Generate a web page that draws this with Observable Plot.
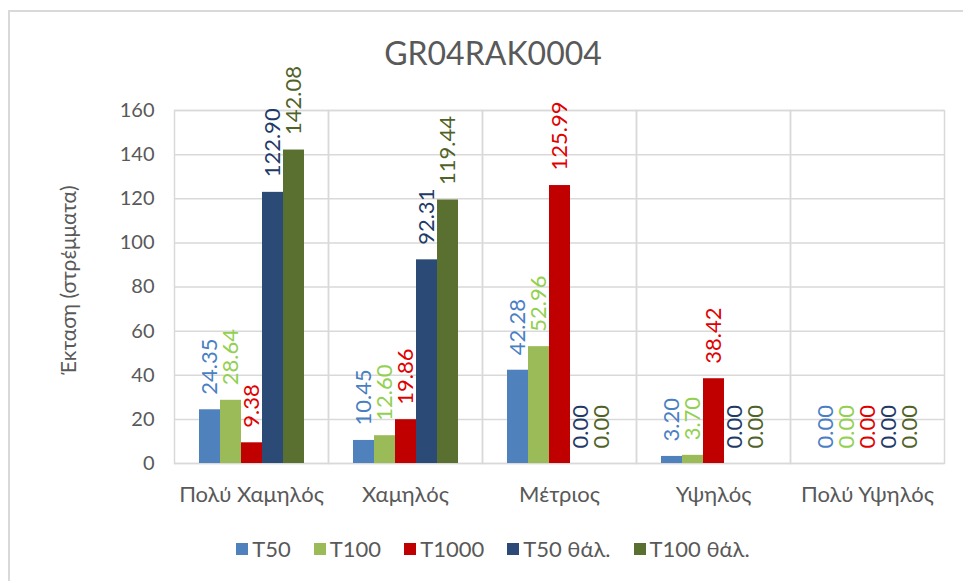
<!DOCTYPE html>
<html>
<head>
<meta charset="utf-8">
<script src="https://cdn.jsdelivr.net/npm/d3@7"></script>
<script src="https://cdn.jsdelivr.net/npm/@observablehq/plot@0.6"></script>
<style>
  html, body { margin: 0; padding: 0; background: #fff; }
  body { width: 963px; height: 581px; overflow: hidden; position: relative; font-family: Lato, "Open Sans", sans-serif; color: #595959; }
  #border { position: absolute; left: 8px; top: 10px; width: 1000px; height: 620px; border: 2px solid #d9d9d9; box-sizing: border-box; }
  #title { position: absolute; left: 9px; width: 968px; top: 33px; text-align: center; font-size: 32px; line-height: 40px; color: #595959; }
  #ytitle { position: absolute; left: 67px; top: 280px; transform: translate(-50%, -50%) rotate(-90deg); white-space: nowrap; font-size: 21px; color: #595959; }
  #chart { position: absolute; left: 0; top: 0; }
  #legend { position: absolute; left: 9px; width: 968px; top: 536px; display: flex; justify-content: center; gap: 23px; font-size: 22px; line-height: 26px; color: #595959; }
  #legend .item { display: flex; align-items: center; gap: 4px; }
  #legend .sw { width: 12px; height: 12px; display: inline-block; }
</style>
</head>
<body>
<div id="border"></div>
<div id="title">GR04RAK0004</div>
<div id="ytitle">Έκταση (στρέμματα)</div>
<div id="chart"></div>
<div id="legend"></div>
<script>
const categories = ["Πολύ Χαμηλός", "Χαμηλός", "Μέτριος", "Υψηλός", "Πολύ Υψηλός"];
const seriesNames = ["T50", "T100", "T1000", "T50 θάλ.", "T100 θάλ."];
const t50 = [24.35, 10.45, 42.28, 3.20, 0.00];
const t100 = [28.64, 12.60, 52.96, 3.70, 0.00];
const t1000 = [9.38, 19.86, 125.99, 38.42, 0.00];
const t50sea = [122.90, 92.31, 0.00, 0.00, 0.00];
const t100sea = [142.08, 119.44, 0.00, 0.00, 0.00];
const yTicks = [0, 20, 40, 60, 80, 100, 120, 140, 160];
const barColors = ["#4F81BD", "#9BBB59", "#C00000", "#2B4B76", "#5A7030"];
const labelColors = ["#4A7FC4", "#92D050", "#E00000", "#1F3A68", "#4F6228"];

const seriesValues = [t50, t100, t1000, t50sea, t100sea];
const data = [];
categories.forEach((c, ci) => {
  seriesNames.forEach((s, si) => {
    data.push({cat: c, series: s, value: seriesValues[si][ci]});
  });
});
const labelColorOf = Object.fromEntries(seriesNames.map((s, i) => [s, labelColors[i]]));

const chart = Plot.plot({
  width: 963,
  height: 520,
  marginTop: 110,
  marginBottom: 57,
  marginLeft: 173,
  marginRight: 18,
  style: {fontFamily: 'Lato, "Open Sans", sans-serif', overflow: "visible", background: "transparent", color: "#595959"},
  fx: {domain: categories, padding: 0},
  x: {domain: seriesNames, paddingInner: 0, paddingOuter: 1.13, axis: null},
  y: {domain: [0, 160]},
  color: {domain: seriesNames, range: barColors},
  marks: [
    Plot.gridY(yTicks, {stroke: "#d9d9d9", strokeOpacity: 1, strokeWidth: 1.5}),
    Plot.frame({stroke: "#d9d9d9", strokeWidth: 1.5}),
    Plot.barY(data, {fx: "cat", x: "series", y: "value", fill: "series"}),
    Plot.text(data, {
      fx: "cat", x: "series", y: "value",
      text: d => d.value.toFixed(2),
      fill: d => labelColorOf[d.series],
      rotate: -90, textAnchor: "start", lineAnchor: "middle",
      dy: -15, fontSize: 22
    }),
    Plot.axisY(yTicks, {tickSize: 0, tickPadding: 20, fontSize: 20, label: null, fill: "#595959"}),
    Plot.axisFx({anchor: "bottom", tickSize: 0, tickPadding: 23, fontSize: 22, label: null, fill: "#595959"})
  ]
});
document.getElementById("chart").appendChild(chart);

const legend = document.getElementById("legend");
seriesNames.forEach((s, i) => {
  const item = document.createElement("div");
  item.className = "item";
  const sw = document.createElement("span");
  sw.className = "sw";
  sw.style.background = barColors[i];
  const tx = document.createElement("span");
  tx.textContent = s;
  item.appendChild(sw);
  item.appendChild(tx);
  legend.appendChild(item);
});
</script>
</body>
</html>
